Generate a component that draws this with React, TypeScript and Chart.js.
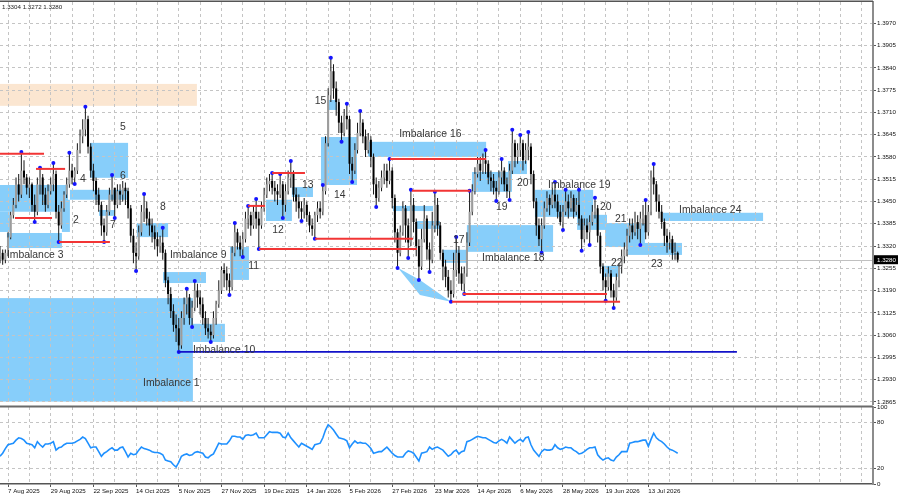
import { useEffect, useRef } from "react";
import { Chart, registerables } from "chart.js";

Chart.register(...registerables);

// daily bars, open of each bar = close of the previous one
const firstOpen = 1.329;
const closes = [
	1.3300, 1.3280, 1.3300, 1.3345, 1.3410, 1.3440, 1.3500, 1.3470, 1.3540, 1.3520,
	1.3490, 1.3500, 1.3440, 1.3420, 1.3500, 1.3520, 1.3470, 1.3440, 1.3480, 1.3500,
	1.3530, 1.3420, 1.3380, 1.3430, 1.3470, 1.3500, 1.3540, 1.3520, 1.3540, 1.3600,
	1.3640, 1.3660, 1.3690, 1.3610, 1.3540, 1.3510, 1.3470, 1.3440, 1.3380, 1.3360,
	1.3420, 1.3470, 1.3490, 1.3440, 1.3480, 1.3470, 1.3490, 1.3480, 1.3430, 1.3350,
	1.3300, 1.3290, 1.3360, 1.3420, 1.3430, 1.3400, 1.3380, 1.3360, 1.3340, 1.3320,
	1.3330, 1.3300, 1.3220, 1.3180, 1.3130, 1.3090, 1.3080, 1.3030, 1.3110, 1.3150,
	1.3170, 1.3110, 1.3140, 1.3190, 1.3170, 1.3150, 1.3110, 1.3080, 1.3070, 1.3060,
	1.3110, 1.3150, 1.3190, 1.3250, 1.3240, 1.3220, 1.3200, 1.3300, 1.3360, 1.3330,
	1.3310, 1.3340, 1.3400, 1.3410, 1.3380, 1.3420, 1.3400, 1.3380, 1.3430, 1.3470,
	1.3500, 1.3510, 1.3490, 1.3480, 1.3470, 1.3500, 1.3440, 1.3480, 1.3520, 1.3530,
	1.3470, 1.3450, 1.3430, 1.3420, 1.3440, 1.3410, 1.3380, 1.3370, 1.3410, 1.3430,
	1.3420, 1.3480, 1.3620, 1.3760, 1.3830, 1.3780, 1.3740, 1.3680, 1.3650, 1.3700,
	1.3690, 1.3560, 1.3540, 1.3600, 1.3650, 1.3680, 1.3640, 1.3600, 1.3630, 1.3580,
	1.3500, 1.3460, 1.3490, 1.3520, 1.3540, 1.3510, 1.3540, 1.3460, 1.3360, 1.3300,
	1.3360, 1.3430, 1.3380, 1.3330, 1.3440, 1.3390, 1.3320, 1.3260, 1.3340, 1.3400,
	1.3310, 1.3280, 1.3380, 1.3440, 1.3380, 1.3300, 1.3260, 1.3230, 1.3190, 1.3180,
	1.3250, 1.3300, 1.3240, 1.3210, 1.3240, 1.3330, 1.3420, 1.3480, 1.3530, 1.3560,
	1.3540, 1.3570, 1.3560, 1.3520, 1.3510, 1.3490, 1.3480, 1.3520, 1.3540, 1.3500,
	1.3480, 1.3540, 1.3620, 1.3580, 1.3600, 1.3620, 1.3570, 1.3600, 1.3610, 1.3530,
	1.3450, 1.3380, 1.3340, 1.3380, 1.3430, 1.3460, 1.3440, 1.3470, 1.3450, 1.3420,
	1.3390, 1.3420, 1.3450, 1.3430, 1.3460, 1.3420, 1.3440, 1.3400, 1.3340, 1.3380,
	1.3360, 1.3390, 1.3420, 1.3430, 1.3350, 1.3260, 1.3220, 1.3200, 1.3240, 1.3190,
	1.3170, 1.3220, 1.3260, 1.3290, 1.3310, 1.3350, 1.3380, 1.3360, 1.3390, 1.3370,
	1.3400, 1.3410, 1.3360, 1.3420, 1.3520, 1.3500, 1.3450, 1.3420, 1.3390, 1.3350,
	1.3330, 1.3340, 1.3300, 1.3300, 1.3280,
];
const highs = [
	1.3320, 1.3310, 1.3310, 1.3360, 1.3420, 1.3460, 1.3520, 1.3530, 1.3594, 1.3570,
	1.3530, 1.3520, 1.3505, 1.3470, 1.3520, 1.3548, 1.3530, 1.3490, 1.3500, 1.3520,
	1.3562, 1.3540, 1.3440, 1.3450, 1.3480, 1.3520, 1.3592, 1.3560, 1.3550, 1.3620,
	1.3660, 1.3690, 1.3726, 1.3700, 1.3620, 1.3560, 1.3520, 1.3490, 1.3450, 1.3400,
	1.3440, 1.3490, 1.3527, 1.3490, 1.3500, 1.3500, 1.3510, 1.3505, 1.3490, 1.3440,
	1.3370, 1.3330, 1.3380, 1.3440, 1.3472, 1.3450, 1.3420, 1.3400, 1.3380, 1.3360,
	1.3350, 1.3373, 1.3310, 1.3230, 1.3200, 1.3150, 1.3120, 1.3110, 1.3130, 1.3170,
	1.3195, 1.3180, 1.3160, 1.3218, 1.3210, 1.3190, 1.3170, 1.3130, 1.3110, 1.3090,
	1.3130, 1.3160, 1.3220, 1.3260, 1.3270, 1.3260, 1.3240, 1.3320, 1.3387, 1.3370,
	1.3350, 1.3360, 1.3420, 1.3437, 1.3420, 1.3440, 1.3457, 1.3420, 1.3450, 1.3490,
	1.3520, 1.3530, 1.3533, 1.3510, 1.3500, 1.3530, 1.3510, 1.3500, 1.3540, 1.3568,
	1.3540, 1.3490, 1.3470, 1.3450, 1.3460, 1.3450, 1.3420, 1.3400, 1.3420, 1.3450,
	1.3450, 1.3498, 1.3640, 1.3780, 1.3869, 1.3850, 1.3800, 1.3750, 1.3700, 1.3720,
	1.3735, 1.3700, 1.3580, 1.3620, 1.3680, 1.3714, 1.3690, 1.3660, 1.3650, 1.3640,
	1.3590, 1.3520, 1.3510, 1.3540, 1.3560, 1.3560, 1.3574, 1.3550, 1.3470, 1.3370,
	1.3380, 1.3450, 1.3440, 1.3400, 1.3484, 1.3460, 1.3400, 1.3340, 1.3370, 1.3440,
	1.3410, 1.3330, 1.3420, 1.3478, 1.3460, 1.3390, 1.3310, 1.3280, 1.3250, 1.3220,
	1.3300, 1.3346, 1.3320, 1.3260, 1.3260, 1.3360, 1.3481, 1.3500, 1.3550, 1.3580,
	1.3580, 1.3590, 1.3600, 1.3570, 1.3540, 1.3530, 1.3510, 1.3540, 1.3574, 1.3550,
	1.3520, 1.3560, 1.3659, 1.3630, 1.3620, 1.3644, 1.3630, 1.3620, 1.3653, 1.3620,
	1.3540, 1.3460, 1.3400, 1.3400, 1.3450, 1.3480, 1.3470, 1.3490, 1.3507, 1.3470,
	1.3440, 1.3440, 1.3484, 1.3470, 1.3480, 1.3470, 1.3460, 1.3484, 1.3410, 1.3400,
	1.3400, 1.3410, 1.3440, 1.3461, 1.3440, 1.3360, 1.3270, 1.3240, 1.3260, 1.3250,
	1.3210, 1.3240, 1.3270, 1.3310, 1.3330, 1.3370, 1.3400, 1.3400, 1.3420, 1.3410,
	1.3420, 1.3440, 1.3454, 1.3440, 1.3540, 1.3559, 1.3510, 1.3470, 1.3440, 1.3400,
	1.3370, 1.3360, 1.3350, 1.3330, 1.3304,
];
const lows = [
	1.3270, 1.3265, 1.3270, 1.3290, 1.3340, 1.3400, 1.3430, 1.3450, 1.3460, 1.3500,
	1.3470, 1.3460, 1.3420, 1.3390, 1.3410, 1.3470, 1.3440, 1.3420, 1.3430, 1.3470,
	1.3480, 1.3400, 1.3332, 1.3370, 1.3420, 1.3460, 1.3490, 1.3500, 1.3501, 1.3530,
	1.3590, 1.3620, 1.3640, 1.3590, 1.3520, 1.3480, 1.3440, 1.3420, 1.3350, 1.3332,
	1.3350, 1.3410, 1.3450, 1.3402, 1.3430, 1.3440, 1.3450, 1.3440, 1.3400, 1.3330,
	1.3270, 1.3247, 1.3280, 1.3350, 1.3390, 1.3380, 1.3350, 1.3330, 1.3310, 1.3290,
	1.3300, 1.3280, 1.3200, 1.3150, 1.3110, 1.3070, 1.3040, 1.3011, 1.3020, 1.3090,
	1.3120, 1.3090, 1.3084, 1.3130, 1.3140, 1.3120, 1.3090, 1.3060, 1.3050, 1.3040,
	1.3050, 1.3090, 1.3140, 1.3180, 1.3200, 1.3190, 1.3177, 1.3190, 1.3290, 1.3310,
	1.3290, 1.3288, 1.3330, 1.3370, 1.3350, 1.3370, 1.3370, 1.3311, 1.3370, 1.3420,
	1.3460, 1.3480, 1.3470, 1.3450, 1.3440, 1.3460, 1.3402, 1.3420, 1.3470, 1.3490,
	1.3450, 1.3420, 1.3400, 1.3393, 1.3400, 1.3390, 1.3360, 1.3350, 1.3341, 1.3390,
	1.3400, 1.3410, 1.3470, 1.3610, 1.3740, 1.3750, 1.3700, 1.3650, 1.3624, 1.3640,
	1.3660, 1.3530, 1.3507, 1.3530, 1.3590, 1.3640, 1.3620, 1.3580, 1.3590, 1.3550,
	1.3470, 1.3434, 1.3450, 1.3480, 1.3500, 1.3490, 1.3500, 1.3430, 1.3330, 1.3256,
	1.3290, 1.3350, 1.3330, 1.3285, 1.3320, 1.3360, 1.3290, 1.3221, 1.3250, 1.3330,
	1.3280, 1.3244, 1.3270, 1.3360, 1.3350, 1.3280, 1.3220, 1.3200, 1.3170, 1.3157,
	1.3170, 1.3230, 1.3210, 1.3190, 1.3180, 1.3230, 1.3320, 1.3410, 1.3470, 1.3520,
	1.3510, 1.3530, 1.3530, 1.3500, 1.3480, 1.3470, 1.3451, 1.3470, 1.3500, 1.3480,
	1.3460, 1.3454, 1.3530, 1.3550, 1.3560, 1.3580, 1.3540, 1.3560, 1.3570, 1.3500,
	1.3430, 1.3350, 1.3320, 1.3300, 1.3370, 1.3420, 1.3410, 1.3430, 1.3430, 1.3400,
	1.3380, 1.3367, 1.3410, 1.3400, 1.3420, 1.3400, 1.3410, 1.3380, 1.3306, 1.3330,
	1.3340, 1.3323, 1.3380, 1.3400, 1.3330, 1.3240, 1.3190, 1.3160, 1.3190, 1.3170,
	1.3139, 1.3160, 1.3200, 1.3240, 1.3270, 1.3290, 1.3330, 1.3340, 1.3350, 1.3340,
	1.3323, 1.3380, 1.3340, 1.3350, 1.3410, 1.3470, 1.3420, 1.3400, 1.3370, 1.3320,
	1.3300, 1.3310, 1.3280, 1.3280, 1.3272,
];
const oscValues = [
	36, 40, 46, 51, 52, 53, 57, 60, 59, 57,
	53, 52, 51, 47, 55, 51, 48, 52, 52, 53,
	55, 44, 47, 48, 51, 53, 53, 53, 54, 56,
	58, 61, 59, 53, 47, 48, 48, 42, 36, 40,
	42, 45, 47, 44, 44, 47, 48, 42, 35, 40,
	38, 39, 44, 48, 46, 45, 44, 42, 41, 41,
	40, 38, 31, 30, 29, 25, 22, 28, 36, 38,
	39, 37, 38, 41, 42, 41, 40, 35, 34, 37,
	39, 46, 53, 52, 52, 52, 56, 62, 62, 61,
	61, 58, 63, 64, 63, 64, 66, 60, 60, 60,
	64, 68, 67, 67, 67, 66, 61, 60, 66, 60,
	56, 52, 48, 53, 51, 49, 47, 45, 51, 52,
	53, 60, 70, 77, 74, 70, 65, 60, 59, 58,
	56, 47, 52, 56, 53, 54, 53, 53, 50, 46,
	40, 41, 42, 42, 45, 48, 44, 40, 37, 35,
	35, 35, 40, 43, 42, 40, 35, 30, 40, 41,
	42, 48, 45, 47, 48, 46, 44, 40, 36, 38,
	42, 44, 39, 42, 43, 55, 56, 58, 60, 62,
	61, 60, 60, 58, 56, 54, 53, 56, 58, 56,
	53, 61, 57, 53, 56, 58, 55, 60, 61, 51,
	44, 40, 36, 42, 45, 44, 44, 45, 51, 47,
	45, 46, 48, 47, 47, 44, 42, 39, 40, 42,
	45, 47, 47, 48, 38, 34, 31, 33, 34, 31,
	30, 35, 38, 42, 42, 42, 53, 54, 55, 55,
	56, 57, 57, 49, 58, 66, 60, 57, 55, 52,
	48, 45, 44, 42, 40,
];

const priceTicks = [
	1.2865, 1.293, 1.2995, 1.306, 1.3125, 1.319, 1.3255, 1.332, 1.3385,
	1.345, 1.3515, 1.358, 1.3645, 1.371, 1.3775, 1.384, 1.3905, 1.397,
];
const oscTicks = [0, 20, 80, 100];
const dateLabels = [
	"7 Aug 2025", "29 Aug 2025", "22 Sep 2025", "14 Oct 2025", "5 Nov 2025",
	"27 Nov 2025", "19 Dec 2025", "14 Jan 2026", "5 Feb 2026", "27 Feb 2026",
	"23 Mar 2026", "14 Apr 2026", "6 May 2026", "28 May 2026", "19 Jun 2026",
	"13 Jul 2026",
];
const firstLabelBar = 3;
const labelStep = 16;
const gridStep = 8;

const upFractals = [8, 15, 20, 26, 32, 42, 54, 61, 70, 73, 88, 93, 96, 102, 105, 109, 121, 124, 130, 135, 146, 154, 163, 171, 176, 182, 188, 192, 195, 198, 208, 212, 217, 223, 242, 245];
const downFractals = [13, 22, 28, 39, 43, 51, 67, 72, 79, 86, 91, 97, 106, 113, 118, 128, 132, 141, 149, 153, 157, 161, 169, 174, 186, 191, 203, 211, 218, 221, 227, 230, 240];

// [fromBar, toBar, low, high]
const imbalanceZones = [
	[0, 72.3, 1.2866, 1.3168],
	[0, 25.5, 1.342, 1.3498],
	[0, 3.7, 1.3361, 1.342],
	[23.2, 26.2, 1.3361, 1.3455],
	[2.6, 23.2, 1.3314, 1.3358],
	[33.7, 48, 1.3519, 1.3621],
	[26.2, 48, 1.3455, 1.3484],
	[37.1, 43.1, 1.3408, 1.3425],
	[51.3, 63, 1.3346, 1.3387],
	[61.1, 77.2, 1.3212, 1.3244],
	[72.3, 84.3, 1.304, 1.3093],
	[86.2, 93.3, 1.3221, 1.3317],
	[99.7, 109.4, 1.3393, 1.3455],
	[109.4, 117.3, 1.3463, 1.3492],
	[120.3, 133.8, 1.3498, 1.3638],
	[122.9, 126.3, 1.3717, 1.3746],
	[137.9, 182.2, 1.358, 1.3624],
	[147.3, 162.3, 1.3422, 1.3437],
	[156.3, 164.9, 1.337, 1.3393],
	[166, 175, 1.3271, 1.3309],
	[175, 207.3, 1.3303, 1.3381],
	[176.9, 191.9, 1.3478, 1.3536],
	[190.4, 197.5, 1.353, 1.3568],
	[200.5, 222.3, 1.3405, 1.3484],
	[216.3, 227.5, 1.3367, 1.3411],
	[226.8, 241.7, 1.3317, 1.3387],
	[225.6, 232.4, 1.323, 1.3262],
	[235.4, 255.6, 1.3294, 1.3329],
	[248.5, 286, 1.3393, 1.3417],
];
const supplyZone = [0, 73.8, 1.3729, 1.3793];
const wedge = [
	[149.2, 1.3256],
	[157.4, 1.3221],
	[169, 1.3157],
	[157.4, 1.3177],
];
// [fromBar, toBar, price]
const levelLines = [
	[0, 16.5, 1.3589],
	[13.5, 24.4, 1.3545],
	[5.6, 19.5, 1.3402],
	[22.1, 41.2, 1.3332],
	[93, 99.3, 1.3437],
	[102, 114.3, 1.3533],
	[97.1, 156.3, 1.3311],
	[118.1, 154.8, 1.3341],
	[146.2, 182.2, 1.3574],
	[154.4, 176.2, 1.3481],
	[169.4, 232.4, 1.3157],
	[173.5, 227.5, 1.318],
];
const baseLine = [66.7, 276.2, 1.3011];
// [text, bar, price]
const zoneLabels: [string, number, number][] = [
	["Imbalance 1", 53.6, 1.292],
	["2", 27.4, 1.3396],
	["Imbalance 3", 2.6, 1.3294],
	["4", 30, 1.3516],
	["5", 45, 1.3667],
	["6", 45, 1.3524],
	["7", 41.2, 1.3381],
	["8", 60, 1.3434],
	["Imbalance 9", 63.7, 1.3294],
	["Imbalance 10", 72.3, 1.3017],
	["11", 93, 1.3262],
	["12", 102, 1.3367],
	["13", 113.2, 1.3498],
	["14", 125.2, 1.3469],
	["15", 118, 1.3743],
	["Imbalance 16", 149.6, 1.3647],
	["17", 169.8, 1.3338],
	["Imbalance 18", 180.7, 1.3285],
	["19", 185.9, 1.3434],
	["20", 193.8, 1.3504],
	["Imbalance 19", 205.4, 1.3498],
	["20", 224.9, 1.3434],
	["21", 230.5, 1.3399],
	["22", 229, 1.327],
	["23", 244, 1.3268],
	["Imbalance 24", 254.5, 1.3425],
];

const X_MIN = 0;
const X_MAX = 327.2;
const FONT = '"Liberation Sans", Arial, sans-serif';
const GRID = "#c4c4c4";
const last = closes.length - 1;

const opens = closes.map((c, i) => (i === 0 ? firstOpen : closes[i - 1]));
const gridBars: number[] = [];
for (let b = firstLabelBar; b <= X_MAX; b += gridStep) gridBars.push(b);

const dateFor = (v: number) => {
	const k = (v - firstLabelBar) / labelStep;
	return Number.isInteger(k) && k >= 0 && k < dateLabels.length ? dateLabels[k] : "";
};

const overlay = {
	id: "overlay",
	beforeDraw(chart: any) {
		const { ctx, chartArea: a } = chart;
		const x = chart.scales.x;
		const y = chart.scales.y;
		const rect = (z: number[]) => {
			const l = x.getPixelForValue(z[0]);
			const r = x.getPixelForValue(z[1]);
			const t = y.getPixelForValue(z[3]);
			const b = y.getPixelForValue(z[2]);
			ctx.fillRect(l, t, r - l, b - t);
		};
		ctx.save();
		ctx.beginPath();
		ctx.rect(a.left, a.top, a.right - a.left, a.bottom - a.top);
		ctx.clip();
		ctx.fillStyle = "#fbe6d1";
		rect(supplyZone);
		ctx.fillStyle = "#87cefa";
		imbalanceZones.forEach(rect);
		ctx.beginPath();
		wedge.forEach(([b, p], k) => {
			const px = x.getPixelForValue(b);
			const py = y.getPixelForValue(p);
			if (k === 0) ctx.moveTo(px, py);
			else ctx.lineTo(px, py);
		});
		ctx.closePath();
		ctx.fill();
		// bid line
		const by = Math.round(y.getPixelForValue(closes[last])) + 0.5;
		ctx.strokeStyle = "#c0c0c0";
		ctx.lineWidth = 1;
		ctx.beginPath();
		ctx.moveTo(a.left, by);
		ctx.lineTo(a.right, by);
		ctx.stroke();
		ctx.restore();
	},
	afterDatasetsDraw(chart: any) {
		const { ctx, chartArea: a } = chart;
		const x = chart.scales.x;
		const y = chart.scales.y;
		ctx.save();
		ctx.beginPath();
		ctx.rect(a.left, a.top, a.right - a.left, a.bottom - a.top);
		ctx.clip();
		ctx.lineWidth = 2;
		ctx.strokeStyle = "#f23535";
		levelLines.forEach(([b1, b2, p]) => {
			const py = y.getPixelForValue(p);
			ctx.beginPath();
			ctx.moveTo(x.getPixelForValue(b1), py);
			ctx.lineTo(x.getPixelForValue(b2), py);
			ctx.stroke();
		});
		ctx.lineWidth = 1.6;
		ctx.strokeStyle = "#1212c8";
		const ny = y.getPixelForValue(baseLine[2]);
		ctx.beginPath();
		ctx.moveTo(x.getPixelForValue(baseLine[0]), ny);
		ctx.lineTo(x.getPixelForValue(baseLine[1]), ny);
		ctx.stroke();
		ctx.fillStyle = "#363636";
		ctx.font = `10.4px ${FONT}`;
		ctx.textAlign = "left";
		ctx.textBaseline = "middle";
		zoneLabels.forEach(([t, b, p]) => {
			ctx.fillText(t, x.getPixelForValue(b), y.getPixelForValue(p));
		});
		ctx.restore();

		// frame, header and bid tag
		ctx.save();
		ctx.fillStyle = "#555555";
		ctx.fillRect(0, 0.5, a.right, 1.5);
		ctx.font = `6.2px ${FONT}`;
		ctx.fillStyle = "#222222";
		ctx.textBaseline = "middle";
		ctx.fillText(
			`${highs[last].toFixed(4)} ${lows[last].toFixed(4)} ${closes[last].toFixed(4)}`,
			2,
			7.5,
		);
		const by = y.getPixelForValue(closes[last]);
		ctx.fillStyle = "#000000";
		ctx.fillRect(a.right + 1, by - 4.5, 24, 9);
		ctx.fillStyle = "#ffffff";
		ctx.fillText(closes[last].toFixed(4), a.right + 4, by + 0.3);
		ctx.restore();
	},
};

const subFrame = {
	id: "subFrame",
	afterDraw(chart: any) {
		const { ctx, chartArea: a } = chart;
		ctx.save();
		ctx.fillStyle = "#6a6a6a";
		ctx.fillRect(0, a.top - 1.5, a.right, 2);
		ctx.restore();
	},
};

const App = (): JSX.Element => {
	const mainRef = useRef<HTMLCanvasElement | null>(null);
	const subRef = useRef<HTMLCanvasElement | null>(null);

	useEffect(() => {
		document.body.style.margin = "0";
		const bars = closes.map((_, i) => i);

		const mainChart = new Chart(mainRef.current, {
			type: "bar",
			data: {
				datasets: [
					{
						type: "line",
						data: [
							...upFractals.map((i) => ({ x: i, y: highs[i] })),
							...downFractals.map((i) => ({ x: i, y: lows[i] })),
						],
						showLine: false,
						pointRadius: 2,
						pointBackgroundColor: "#1414ff",
						pointBorderWidth: 0,
						order: 0,
					},
					{
						type: "bar",
						data: bars.map((i) => ({ x: i, y: [opens[i], closes[i]] })),
						backgroundColor: bars.map((i) => (closes[i] >= opens[i] ? "#9c9c9c" : "#000000")),
						grouped: false,
						barThickness: 2,
						maxBarThickness: 2,
						minBarLength: 1,
						inflateAmount: 0,
						borderWidth: 0,
						order: 1,
					},
					{
						type: "bar",
						data: bars.map((i) => ({ x: i, y: [lows[i], highs[i]] })),
						backgroundColor: "#161616",
						grouped: false,
						barThickness: 1,
						maxBarThickness: 1,
						inflateAmount: 0,
						borderWidth: 0,
						order: 2,
					},
				],
			},
			options: {
				animation: false,
				responsive: false,
				events: [],
				layout: { autoPadding: false, padding: { top: 2, bottom: 6, left: 0, right: 0 } },
				plugins: { legend: { display: false }, tooltip: { enabled: false } },
				scales: {
					x: {
						type: "linear",
						min: X_MIN,
						max: X_MAX,
						offset: false,
						grid: { offset: false, color: GRID, drawTicks: false },
						border: { display: false, dash: [3, 3] },
						ticks: { display: false },
						afterBuildTicks: (ax: any) => {
							ax.ticks = gridBars.map((value) => ({ value }));
						},
						afterFit: (ax: any) => {
							ax.height = 0;
							ax.paddingLeft = 0;
							ax.paddingRight = 0;
						},
					},
					y: {
						position: "right",
						min: 1.2859,
						max: 1.4032,
						grid: { color: GRID, tickLength: 3, tickColor: "#555555" },
						border: { display: true, color: "#8c8c8c", width: 2, dash: [3, 3] },
						ticks: {
							autoSkip: false,
							padding: 1,
							color: "#111111",
							font: { family: FONT, size: 6.2 },
							callback: (v: any) => Number(v).toFixed(4),
						},
						afterBuildTicks: (ax: any) => {
							ax.ticks = priceTicks.map((value) => ({ value }));
						},
						afterFit: (ax: any) => {
							ax.width = 27;
							ax.paddingTop = 0;
							ax.paddingBottom = 0;
						},
					},
				},
			},
			plugins: [overlay],
		} as any);

		const subChart = new Chart(subRef.current, {
			type: "line",
			data: {
				datasets: [
					{
						data: bars.map((i) => ({ x: i, y: oscValues[i] })),
						borderColor: "#1e90ff",
						borderWidth: 1.6,
						pointRadius: 0,
						tension: 0,
					},
				],
			},
			options: {
				animation: false,
				responsive: false,
				events: [],
				layout: { autoPadding: false, padding: { top: 7, bottom: 0, left: 0, right: 0 } },
				plugins: { legend: { display: false }, tooltip: { enabled: false } },
				scales: {
					x: {
						type: "linear",
						min: X_MIN,
						max: X_MAX,
						grid: {
							color: GRID,
							tickLength: 3,
							tickColor: (c: any) => (c.tick && dateFor(c.tick.value) ? "#555555" : "rgba(0,0,0,0)"),
						},
						border: { display: true, color: "#555555", width: 1.5, dash: [3, 3] },
						ticks: {
							autoSkip: false,
							maxRotation: 0,
							align: "start",
							padding: 1,
							color: "#111111",
							font: { family: FONT, size: 6.2 },
							callback: (v: any) => dateFor(Number(v)),
						},
						afterBuildTicks: (ax: any) => {
							ax.ticks = gridBars.map((value) => ({ value }));
						},
						afterFit: (ax: any) => {
							ax.height = 16;
							ax.paddingLeft = 0;
							ax.paddingRight = 0;
						},
					},
					y: {
						position: "right",
						min: 0,
						max: 100,
						grid: {
							color: (c: any) =>
								c.tick && (c.tick.value === 20 || c.tick.value === 80) ? GRID : "rgba(0,0,0,0)",
							tickLength: 3,
							tickColor: "#555555",
						},
						border: { display: true, color: "#8c8c8c", width: 2, dash: [3, 3] },
						ticks: {
							autoSkip: false,
							padding: 1,
							color: "#111111",
							font: { family: FONT, size: 6.2 },
						},
						afterBuildTicks: (ax: any) => {
							ax.ticks = oscTicks.map((value) => ({ value }));
						},
						afterFit: (ax: any) => {
							ax.width = 27;
							ax.paddingTop = 0;
							ax.paddingBottom = 0;
						},
					},
				},
			},
			plugins: [subFrame],
		} as any);

		return () => {
			mainChart.destroy();
			subChart.destroy();
		};
	}, []);

	return (
		<div style={{ position: "relative", width: 900, height: 500, background: "#ffffff" }}>
			<canvas ref={mainRef} width={900} height={410} style={{ position: "absolute", left: 0, top: 0 }} />
			<canvas ref={subRef} width={900} height={100} style={{ position: "absolute", left: 0, top: 400 }} />
		</div>
	);
};

export default App;
